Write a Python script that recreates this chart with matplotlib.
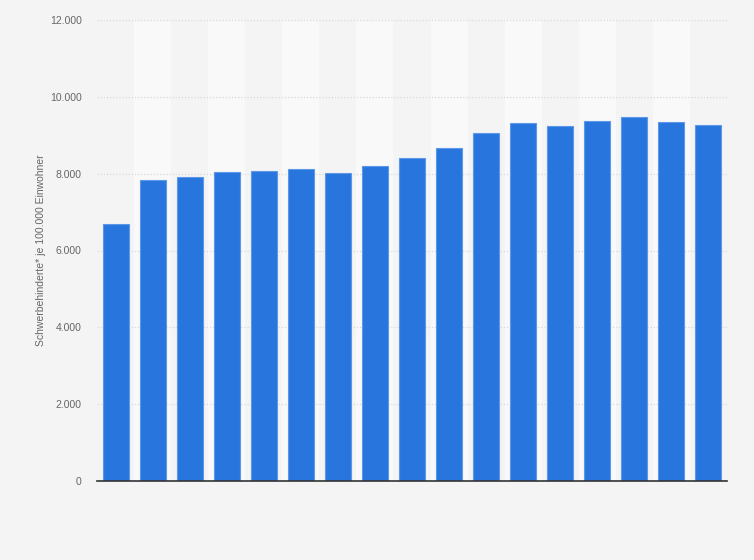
import matplotlib.pyplot as plt
from matplotlib.ticker import FuncFormatter

# Schwerbehinderte je 100.000 Einwohner, 17 Erhebungen (no year labels shown)
values = [6680, 7830, 7905, 8035, 8060, 8115, 8010, 8200, 8400, 8660,
          9050, 9310, 9240, 9362, 9475, 9336, 9266]
positions = list(range(len(values)))
y_ticks = [0, 2000, 4000, 6000, 8000, 10000, 12000]

BG = '#f4f4f4'
BAND = '#f9f9f9'
BAR = '#2876dd'
TEXT = '#666666'

plt.rcParams['font.family'] = ['Liberation Sans', 'DejaVu Sans']

fig = plt.figure(figsize=(7.54, 5.60), dpi=100, facecolor=BG)
ax = fig.add_axes([97 / 754, 79 / 560, 630 / 754, 461 / 560])
ax.set_facecolor(BG)

# alternating light column bands
for p in positions[1::2]:
    ax.axvspan(p - 0.5, p + 0.5, color=BAND, zorder=0, lw=0)

ax.bar(positions, values, width=0.7, color=BAR, edgecolor='#5d98e8',
       linewidth=0.8, zorder=3)

ax.set_xlim(-0.5, len(values) - 0.5)
ax.set_ylim(0, 12000)
ax.set_yticks(y_ticks)
ax.yaxis.set_major_formatter(FuncFormatter(lambda v, _: f'{int(v):,}'.replace(',', '.')))
ax.set_xticks([])

ax.grid(axis='y', color='#d9d9d9', linestyle=(0, (1, 1.5)), linewidth=0.9, zorder=1)
ax.set_axisbelow(True)

for s in ['top', 'right', 'left']:
    ax.spines[s].set_visible(False)
ax.spines['bottom'].set_color('#333333')
ax.spines['bottom'].set_linewidth(1.2)
ax.spines['bottom'].set_zorder(4)

ax.tick_params(axis='y', length=0, pad=11, labelsize=7.5, labelcolor=TEXT)
ax.set_ylabel('Schwerbehinderte* je 100.000 Einwohner', fontsize=7.5, color=TEXT, labelpad=3)

fig.savefig('out.png', dpi=100, facecolor=BG)
